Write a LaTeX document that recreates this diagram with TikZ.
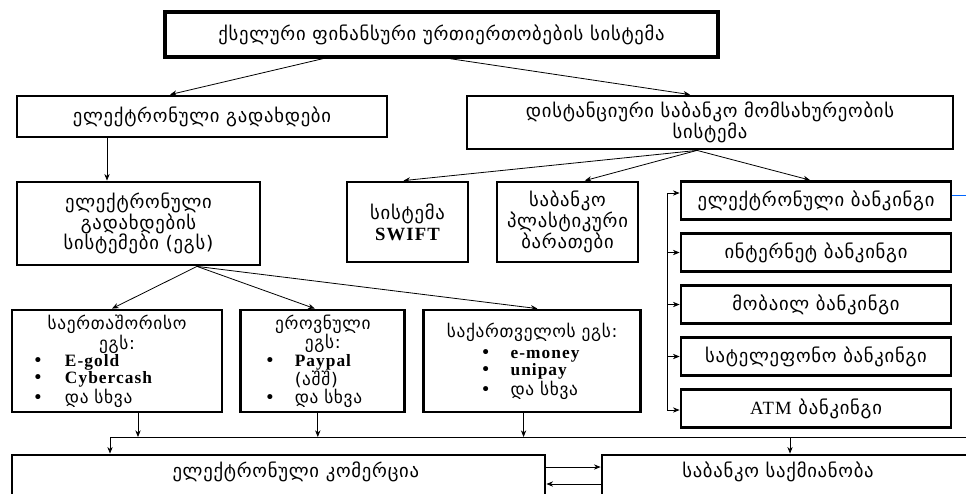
\documentclass[tikz,border=0pt]{standalone}
\usepackage{fontspec}
\setmainfont{DejaVu Sans}[LetterSpace=4]
\newfontfamily\latinfont{Liberation Serif}[LetterSpace=6]
\usetikzlibrary{arrows.meta, positioning}

\newcommand\boxfont{\fontsize{14}{15.5}\selectfont}
\newcommand\listfont{\fontsize{13}{13}\selectfont}
\newcommand\lat[1]{{\latinfont\bfseries #1}}
% bullet line: left gap, bullet box, text
\newcommand\bitem[3]{\hspace*{#1}\makebox[#2][l]{\textbullet}#3}
\newcommand\ctrline[1]{\leavevmode\hbox to\hsize{\hss#1\hss}}

\begin{document}
\begin{tikzpicture}[
        x=0.75pt, y=-0.75pt,
        box/.style={
            draw,
            line width=2.1pt,
            align=center,
            inner sep=0pt,
            font=\boxfont
        },
        listbox/.style={box, align=left, font=\listfont},
        rowbox/.style={box, minimum width=202.5pt, minimum height=28.5pt},
        arrow/.style={-{Stealth[length=5pt, width=4pt]}, line width=0.6pt}
    ]
        \useasboundingbox (0,0) rectangle (966,493);
        \clip (0,0) rectangle (966,493);

        \node[box, line width=2.5pt, minimum width=414.75pt, minimum height=33.75pt] (top) at (441.5,34.5) {ქსელური ფინანსური ურთიერთობების სისტემა};
        \node[box, minimum width=277.5pt, minimum height=30.75pt] (elpay) at (202,116.5) {ელექტრონული გადახდები};
        \node[box, minimum width=364.5pt, minimum height=39.75pt] (dist) at (710,122.5) {დისტანციური საბანკო მომსახურეობის\\სისტემა};

        \node[box, minimum width=182.25pt, minimum height=62.25pt] (egs) at (138.5,223.5) {ელექტრონული\\გადახდების\\სისტემები (ეგს)};
        \node[box, minimum width=90.75pt, minimum height=60pt] (swift) at (407.5,222) {სისტემა\\\lat{SWIFT}};
        \node[box, minimum width=105.75pt, minimum height=60pt] (cards) at (567.5,222) {საბანკო\\პლასტიკური\\ბარათები};

        \node[rowbox] (elbank) at (816,200.5) {ელექტრონული ბანკინგი};
        \node[rowbox, below=8.4pt of elbank] (internet) {ინტერნეტ ბანკინგი};
        \node[rowbox, below=8.4pt of internet] (mobile) {მობაილ ბანკინგი};
        \node[rowbox, below=8.4pt of mobile] (phone) {სატელეფონო ბანკინგი};
        \node[rowbox, below=8.4pt of phone] (atm) {{\latinfont ATM} ბანკინგი};

        \node[listbox, minimum width=157.5pt, text width=157.5pt, minimum height=76.5pt] (intl) at (117,361) {%
            \ctrline{საერთაშორისო}\\
            \ctrline{ეგს:}\\
            \bitem{15.75pt}{24pt}{\lat{E-gold}}\\
            \bitem{15.75pt}{24pt}{\lat{Cybercash}}\\
            \bitem{15.75pt}{24pt}{და სხვა}};
        \node[listbox, minimum width=123pt, text width=123pt, minimum height=76.5pt, right=12pt of intl] (euro) {%
            \ctrline{ეროვნული}\\
            \ctrline{ეგს:}\\
            \bitem{18pt}{22.5pt}{\lat{Paypal}}\\
            \hspace*{40.5pt}(აშშ)\\
            \bitem{18pt}{22.5pt}{და სხვა}};
        \node[listbox, minimum width=162.75pt, text width=162.75pt, minimum height=76.5pt, right=12pt of euro] (geo) {%
            \ctrline{საქართველოს ეგს:}\\[3pt]
            \bitem{42.75pt}{22.5pt}{\lat{e-money}}\\
            \bitem{42.75pt}{22.5pt}{\lat{unipay}}\\
            \bitem{42.75pt}{22.5pt}{და სხვა}};

        \node[box, minimum width=399.75pt, minimum height=34.5pt, text height=9pt, text depth=10pt] (ecom) at (278.5,478) {\hspace*{26pt}ელექტრონული კომერცია};
        \node[box, minimum width=306pt, minimum height=34.5pt, text height=9pt, text depth=10pt] (bank) at (806,478) {საბანკო საქმიანობა\hspace*{42pt}};

        \coordinate (bus1) at (667,193);
        \coordinate (bus2) at (667,410);
        \coordinate (busL) at (110,437);
        \coordinate (busR) at (966,437);
        \coordinate (busB) at (790,437);

        \draw[arrow] ([xshift=-88.9pt]top.south) -- ([xshift=-24pt]elpay.north);
        \draw[arrow] ([xshift=6.4pt]top.south) -- ([xshift=-15pt]dist.north);
        \draw[arrow] ([xshift=-71.25pt]elpay.south) -- ([xshift=-71.25pt]elpay.south |- egs.north);

        \draw[arrow] ([xshift=-9.75pt]dist.south) -- ([xshift=-3pt]swift.north);
        \draw[arrow] ([xshift=-9.75pt]dist.south) -- ([xshift=13pt]cards.north);
        \draw[arrow] ([xshift=-9.75pt]dist.south) -- ([xshift=-4.5pt]elbank.north);

        \draw (bus1) -- (bus2);
        \draw[arrow] (bus1) -- (bus1 -| elbank.west);
        \draw[arrow] (bus1 |- internet.west) -- (internet.west);
        \draw[arrow] (bus1 |- mobile.west) -- (mobile.west);
        \draw[arrow] (bus1 |- phone.west) -- (phone.west);
        \draw[arrow] (bus2) -- (bus2 -| atm.west);
        \draw[blue!60!cyan, line width=0.4pt] ([yshift=4pt]elbank.east) -- ++(20,0);

        \draw[arrow] ([xshift=43.9pt]egs.south) -- ([xshift=-3.75pt]intl.north);
        \draw[arrow] ([xshift=43.9pt]egs.south) -- ([xshift=-6pt]euro.north);
        \draw[arrow] ([xshift=43.9pt]egs.south) -- ([xshift=4pt]geo.north);

        \draw[arrow] ([xshift=15.75pt]intl.south) -- ([xshift=15.75pt]intl.south |- busL);
        \draw[arrow] ([xshift=-3.75pt]euro.south) -- ([xshift=-3.75pt]euro.south |- busL);
        \draw[arrow] ([xshift=-6.4pt]geo.south) -- ([xshift=-6.4pt]geo.south |- busL);
        \draw (busL) -- (busR);
        \draw[arrow] (busL) -- (busL |- ecom.north);
        \draw[arrow] (busB) -- (busB |- bank.north);

        \draw[arrow] ([yshift=8.25pt]ecom.east) -- ([yshift=8.25pt]ecom.east -| bank.west);
        \draw[arrow] ([yshift=-4.5pt]bank.west) -- ([yshift=-4.5pt]bank.west -| ecom.east);
    \end{tikzpicture}
\end{document}
